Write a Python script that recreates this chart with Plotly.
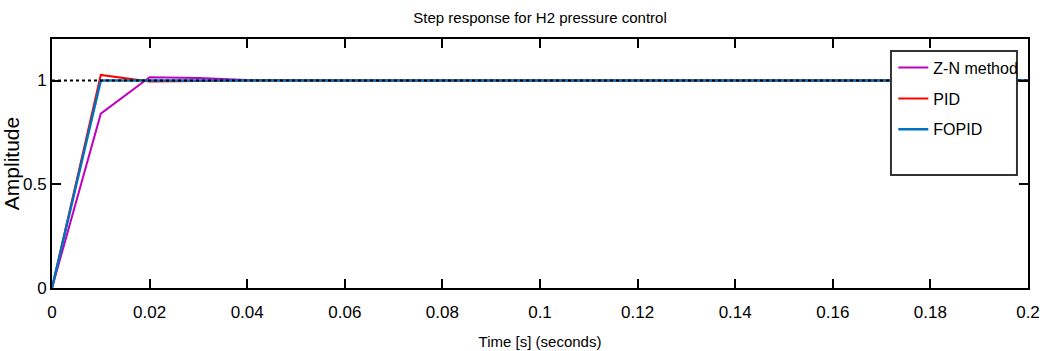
import plotly.graph_objects as go

time_s = [0.00, 0.01, 0.02, 0.03, 0.04, 0.05, 0.06, 0.07, 0.08, 0.09, 0.10,
          0.11, 0.12, 0.13, 0.14, 0.15, 0.16, 0.17, 0.18, 0.19, 0.20]
zn_method = [0.0, 0.84, 1.016, 1.012, 1.002, 1.0, 1.0, 1.0, 1.0, 1.0, 1.0,
             1.0, 1.0, 1.0, 1.0, 1.0, 1.0, 1.0, 1.0, 1.0, 1.0]
pid = [0.0, 1.027, 0.995, 0.998, 1.0, 1.0, 1.0, 1.0, 1.0, 1.0, 1.0,
       1.0, 1.0, 1.0, 1.0, 1.0, 1.0, 1.0, 1.0, 1.0, 1.0]
fopid = [0.0, 1.0, 1.0, 1.0, 1.0, 1.0, 1.0, 1.0, 1.0, 1.0, 1.0,
         1.0, 1.0, 1.0, 1.0, 1.0, 1.0, 1.0, 1.0, 1.0, 1.0]
ref_t = [0.0, 0.2]
ref_y = [1.0, 1.0]

x_ticks = [0, 0.02, 0.04, 0.06, 0.08, 0.1, 0.12, 0.14, 0.16, 0.18, 0.2]
x_tick_text = ["0", "0.02", "0.04", "0.06", "0.08", "0.1", "0.12", "0.14", "0.16", "0.18", "0.2"]
y_ticks = [0, 0.5, 1]
y_tick_text = ["0", "0.5", "1"]

FONT = "Liberation Sans, Arial, sans-serif"

fig = go.Figure()
fig.add_trace(go.Scatter(x=time_s, y=zn_method, mode="lines", name="Z-N method",
                         line=dict(color="#C000C0", width=2), legendgroup="a"))
fig.add_trace(go.Scatter(x=time_s, y=pid, mode="lines", name="PID",
                         line=dict(color="#FF0000", width=2), legendgroup="b"))
fig.add_trace(go.Scatter(x=time_s, y=fopid, mode="lines", name="FOPID",
                         line=dict(color="#0072BD", width=2.5), legendgroup="c"))
fig.add_trace(go.Scatter(x=ref_t, y=ref_y, mode="lines", showlegend=False,
                         line=dict(color="black", width=2, dash="dot")))

axis_common = dict(showline=True, linecolor="black", linewidth=2, mirror="ticks",
                   ticks="inside", ticklen=9, tickwidth=2, tickcolor="black",
                   showgrid=False, zeroline=False, automargin=False,
                   ticklabeloverflow="allow",
                   tickfont=dict(family=FONT, size=17, color="black"))

fig.update_xaxes(range=[0, 0.2], tickvals=x_ticks, ticktext=x_tick_text, ticklabelstandoff=8,
                 title=dict(text="Time [s] (seconds)", font=dict(family=FONT, size=15, color="black"), standoff=15),
                 **axis_common)
fig.update_yaxes(range=[0, 1.2], tickvals=y_ticks, ticktext=y_tick_text,
                 title=dict(text="Amplitude", font=dict(family=FONT, size=21, color="black"), standoff=0),
                 **axis_common)

fig.add_shape(type="rect", xref="paper", yref="paper", x0=0.8596, x1=0.9887, y0=0.454, y1=0.952,
              line=dict(color="#333333", width=2), fillcolor="white", layer="above")

fig.update_layout(
    width=1040, height=351,
    margin=dict(l=52, r=12, t=39, b=63),
    paper_bgcolor="white", plot_bgcolor="white",
    title=dict(text="Step response for H2 pressure control", xref="paper", x=0.5, xanchor="center",
               yref="container", y=0.9487, yanchor="middle",
               font=dict(family=FONT, size=15, color="black")),
    legend=dict(x=0.862, y=0.953, xanchor="left", yanchor="top", bgcolor="rgba(0,0,0,0)",
                borderwidth=0, tracegroupgap=7, itemwidth=30,
                font=dict(family=FONT, size=16, color="black")),
)

# remove the default 8px page margin so the figure fills the window exactly
fig.write_html("out.html", config={"displayModeBar": False},
               post_script="document.body.style.margin='0';document.body.style.overflow='hidden';")
